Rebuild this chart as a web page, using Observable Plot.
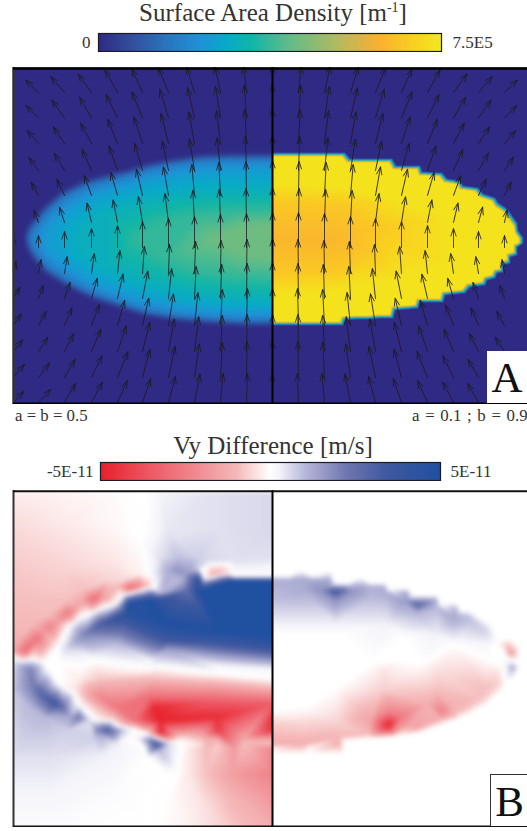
<!DOCTYPE html>
<html><head><meta charset="utf-8">
<script src="https://cdn.jsdelivr.net/npm/d3@7"></script>
<script src="https://cdn.jsdelivr.net/npm/@observablehq/plot@0.6"></script>
<style>
html,body{margin:0;padding:0;background:#fff;}
#page{position:relative;width:527px;height:831px;overflow:hidden;font-family:"Liberation Serif",serif;color:#333;}
#page>*{position:absolute;}
.title{font-size:25px;left:0;width:546px;text-align:center;line-height:26px;white-space:nowrap;}
.title sup{font-size:14px;line-height:0;}
.note{font-size:16.8px;white-space:nowrap;line-height:18px;}
.letter{background:#fff;color:#111;font-size:43px;line-height:54px;text-align:center;}
svg{display:block;overflow:hidden;}
</style></head><body><div id="page"></div>
<script>
// ---- colour bars
const densityStops=[0,0.75e5,1.5e5,2.25e5,2.78e5,3.35e5,4.16e5,5.18e5,6.15e5,6.88e5,7.5e5];
const densityColors=["#2f2a84","#33509f","#2876c0","#1e93d8","#08aac8","#10b5a8","#60bc88","#aeba62","#fbb030","#f9d020","#f2ea1c"];
const diffStops=[-5,-3.5,-2.2,-1,-0.25,0,0.25,1,2.2,3.4,5];
const diffColors=["#e8202a","#ee5a66","#f08a90","#f5b8b8","#fdeeee","#ffffff","#f4f4fa","#b8b8da","#7078b0","#4058a0","#2050a0"];
const densityLabels=["0","7.5E5"];
const diffLabels=["-5E-11","5E-11"];

// ---- Panel A, left half: contours of surface area density (x, y positions, and the value on each)
const aLeftLevels=[0,1.5e5,2.4e5,3.0e5,3.7e5,4.35e5];
const aLeftContours=[
 [[272,86],[235,86],[200,87],[167,92],[147,96],[127,102],[110,106],[83,113],[60,124],[43,139],[31,154],[26,162],[24,171],[26,181],[31,190],[43,205],[67,220],[90,231],[117,240],[143,248],[173,253],[207,256],[240,258],[272,258]],
 [[272,91],[235,91],[200,92],[167,97],[147,101],[127,107],[110,111],[85,118],[63,129],[47,143],[35,157],[30,164],[28,171],[30,179],[35,187],[47,201],[70,216],[93,227],[119,236],[145,244],[174,249],[207,252],[240,254],[272,254]],
 [[272,100],[235,101],[200,103],[170,107],[150,111],[130,117],[112,121],[90,128],[72,138],[58,149],[48,160],[42,172],[48,184],[58,193],[78,207],[98,218],[122,227],[148,234],[176,240],[207,243],[240,245],[272,245]],
 [[272,122],[235,123],[200,125],[170,128],[135,134],[105,145],[85,158],[78,172],[85,186],[105,200],[135,212],[170,222],[200,228],[235,232],[272,233]],
 [[272,143],[235,144],[195,148],[160,155],[138,172],[160,190],[195,203],[235,209],[272,211]],
 [[272,157],[240,160],[212,172],[240,186],[272,190],[250,172]]
];
const aLeftCorners=[[13,0],[140,0],[272,0],[13,90],[13,172],[13,260],[13,337],[140,337],[272,337]];

// ---- Panel A, right half: staircase edge
const aRightOuter=[[272,85],[296,85],[320,85],[345,85],[350,91],[371,91],[392,91],[396,98],[408,98],[420,98],[422,104],[442,105],[447,111],[460,113],[463,118],[478,120],[483,126],[495,130],[498,135],[507,141],[512,148],[517,155],[518,163],[523,170],[523,176],[517,180],[517,188],[510,190],[510,196],[503,198],[503,205],[497,206],[495,211],[487,213],[485,218],[470,220],[465,226],[455,227],[445,228],[443,235],[432,235],[420,235],[418,241],[407,242],[395,243],[393,251],[381,251],[369,252],[357,252],[345,253],[343,258],[320,258],[296,258],[272,258]];
const aRightInner=[[272,89],[296,89],[320,89],[341,89],[346,95],[367,95],[388,95],[392,102],[404,102],[416,102],[418,108],[438,109],[443,115],[456,117],[459,122],[474,124],[479,130],[491,134],[494,139],[503,145],[508,152],[513,159],[514,165],[518,171],[518,175],[513,177],[513,184],[506,186],[506,192],[499,194],[499,201],[493,202],[491,207],[483,209],[481,214],[466,216],[461,222],[451,223],[441,224],[439,231],[428,231],[416,231],[414,237],[403,238],[391,239],[389,247],[377,247],[365,248],[353,248],[341,249],[339,254],[320,254],[296,254],[272,254]];
const aRightYellow=[[272,118],[340,120],[400,135],[445,150],[470,172],[445,195],[400,210],[340,222],[272,226]];
const aRightOrange=[[272,135],[340,137],[378,160],[372,185],[340,203],[272,207]];
const aRightCore=[[272,172],[330,172]];
const aRightCorners=[[272,0],[400,0],[527,0],[527,90],[527,172],[527,260],[527,337],[400,337],[272,337]];
const aRightValues={outer:0,inner:7.3e5,yellow:7.3e5,orange:6.7e5,core:6.3e5};

// ---- arrows
const arrowRows=[25,50.5,76,103,128,155,180,206,231,258,284,310,335];
const arrowColsLeft=[13,38,64,91,117,142,168,194,220,246];
const arrowColCentre=[272];
const arrowColsRight=[298,324,350,375,401,427,453,478,504];
const angleLeft=[
[-50,-46,-41,-36,-29,-24,-22,-17,-12,-6],
[-50,-45,-35,-30,-26,-22,-17,-13,-9,-4],
[-46,-41,-34,-28,-22,-18,-14,-10,-7,-3],
[-42,-37,-30,-24,-19,-16,-12,-9,-6,-2],
[-34,-29,-25,-20,-16,-13,-10,-5,-3,-1],
[-25,-20,-18,-13,-11,-9,-7,-3,-2,-1],
[0,0,0,0,0,0,0,0,0,0],
[12,10,9,8,6,4,2,2,1,1],
[29,20,19,16,13,11,6,3,2,1],
[34,29,23,21,16,13,9,6,3,1.5],
[38,33,27,23,19,14,10,7,3,1],
[40,37,30,26,22,15,12,8,3,1],
[43,43,30,28,24,19,15,11,5,2]];
const lengthLeft=[
[18,18,21,23,26,26,27,27,27,27],
[17,17.5,22,24,26,28,30,31,32,33],
[16,17,20,23,26,28,31,32,33,34],
[15,16,20,23,26,28,30,32,33,34],
[14,15,18,21,24,27,29,31,33,34],
[12,13,16,20,23,26,29,32,33,34],
[11,12,16,19,22,26,29,31,33,34],
[12,14,17,20,23,27,29,32,33,34],
[13,14,17,21,25,28,30,32,34,35],
[14,16,19,22,26,28,32,33,36,37],
[15,17,20,24,27,30,33,35,36,37],
[17,18,21,24,28,29,32,34,35,36],
[15,18,22,23,24,25,27,29,29,29]];
const lengthCentre=[27,34,35,35,35,35,35,35,36,37,37,37,29];
const angleRight=[
[6,12,17,22,24,29,36,41,46],
[4,9,13,17,22,26,30,35,45],
[3,7,10,14,18,22,28,34,41],
[2,6,9,12,16,19,24,30,34],
[1,3,5,10,13,16,20,25,26],
[1,2,3,7,9,11,13,15,12],
[0,0,0,0,0,0,0,0,0],
[-1,-1,-2,-2,-4,-6,-8,-9,-10],
[-1,-2,-3,-6,-11,-13,-16,-19,-20],
[-1.5,-3,-6,-9,-13,-16,-21,-23,-29],
[-1,-3,-7,-10,-14,-19,-23,-27,-33],
[-1,-3,-8,-12,-15,-22,-26,-30,-37],
[-2,-5,-11,-15,-19,-24,-28,-30,-43]];
const lengthRight=[
[27,27,27,27,26,26,23,21,18],
[33,32,31,30,28,26,24,22,17.5],
[34,33,32,31,28,26,23,20,17],
[34,33,32,30,28,26,23,20,16],
[34,33,31,29,27,24,21,18,15],
[34,33,32,29,26,23,20,16,13],
[35,34,31,29,26,22,19,16,12],
[34,33,32,29,27,23,20,17,14],
[35,34,32,30,28,25,21,17,14],
[37,36,33,32,28,26,22,19,16],
[37,36,35,33,30,27,24,20,17],
[36,35,34,32,29,28,24,21,18],
[29,29,29,27,25,24,23,22,18]];

// ---- Panel B samples, in thirds of a pixel: [x, y, value]; left half
const bUpperRight=[[815,5,.6],[650,5,.5],[480,5,.25],[440,5,0],[815,120,.6],[650,120,.5],[500,120,.4],[445,120,.05],[815,200,.5],[700,210,.5],[620,210,.6],[530,200,.9],[480,200,.5],[590,200,.7],[530,240,1.7],[560,250,1.6],[500,240,1.2],[460,250,.3],[540,270,1],[590,235,.8],[600,240,0],[815,245,.1],[815,258,0],[700,258,0],[610,262,0],[640,250,-1.4],[680,250,-.6],[615,243,0]];
const bUpperLeft=[[39,5,-.25],[200,5,-.15],[350,5,-.05],[420,5,0],[39,100,-.5],[200,100,-.3],[350,100,-.08],[420,150,0],[39,250,-.8],[200,230,-.6],[330,220,-.4],[420,250,-.2],[39,400,-1],[110,330,-.9],[60,440,-1.1],[100,400,-1],[150,370,-.9],[190,335,-.9],[250,300,-.9],[330,270,-.6],[380,265,-.5],[39,480,-1.5],[75,480,-3],[110,445,-2.8],[130,425,-1.8],[150,410,-2.4],[170,395,-1.7],[205,368,-2.6],[245,335,-1.5],[280,327,-3],[310,325,-1.5],[380,292,-2.6],[395,290,-3.2],[410,290,-2.6],[240,345,-1.3],[350,290,-1],[440,285,-1]];
const bEdgeTop=[[460,293,0],[420,300,0],[370,312,0],[345,340,0],[270,368,0],[205,405,0],[170,470,0],[135,520,0],[39,500,0],[90,505,0],[130,515,0]];
const bBlue=[[600,275,4.5],[815,272,5],[700,272,5],[560,300,2.5],[480,308,1],[385,330,3.5],[480,325,4],[365,345,2],[290,380,1.5],[230,410,1],[200,470,.7],[380,350,5],[450,330,5],[600,300,5],[815,300,5],[815,440,5],[650,420,5],[500,400,5],[380,370,4.5],[300,400,3.2],[250,430,2],[210,480,.5],[500,450,3.5],[650,460,3.5],[815,470,4],[815,510,1.5],[650,490,1.7],[500,475,1.5],[350,460,1],[250,490,.3],[815,535,.2],[650,525,.2],[450,510,.2],[280,505,.1]];
const bEdgeMiddle=[[815,565,0],[650,550,0],[450,535,0],[250,525,0],[180,520,0],[140,530,0]];
const bRed=[[815,590,-1],[650,575,-1],[450,565,-1],[300,565,-.8],[240,565,-.3],[815,640,-3.4],[650,630,-3.3],[450,620,-3],[300,620,-2.3],[230,600,-.5],[815,690,-4.6],[650,680,-4.7],[480,690,-5],[460,650,-4.8],[350,650,-2.8],[290,650,-1],[815,720,-4.5],[650,720,-4.3],[480,725,-4.8],[400,690,-2.8],[340,680,-1],[815,745,-1.5],[730,745,-1.4],[650,745,-1.3],[600,745,-.9],[540,745,-.3]];
const bEdgeBottom=[[815,762,-.9],[730,762,-.9],[650,762,-.7],[600,762,-.4],[560,760,-.1],[545,760,0],[440,730,0],[400,715,0],[350,705,0],[290,690,0],[235,640,0],[175,580,0],[150,540,0]];
const bLowerRight=[[815,772,-2.3],[700,772,-1.8],[620,772,-1],[565,775,-.3],[815,850,-2.4],[700,850,-1.7],[620,850,-.9],[560,850,-.3],[530,850,0],[815,930,-1.8],[700,930,-1.1],[600,930,-.4],[510,930,-.05],[815,1011,-1.3],[680,1011,-.7],[580,1011,-.25],[480,1011,-.02],[440,1011,0],[500,850,0]];
const bLowerLeft=[[39,525,.6],[90,535,2],[60,525,1.2],[100,585,2.2],[120,605,2.8],[140,625,3.2],[165,640,3.5],[190,650,2.5],[140,640,2.5],[100,620,1.8],[200,650,1.5],[235,680,2.3],[210,680,1.3],[270,690,.5],[290,718,2],[320,718,3],[350,720,1.8],[300,735,1.2],[370,718,.8],[470,760,3.5],[440,750,1.5],[510,760,.5],[480,780,1],[39,600,.8],[80,640,1],[130,680,1],[200,720,.7],[280,745,.7],[350,760,.3],[400,740,-.2],[430,770,0],[39,800,.5],[150,800,.5],[300,800,.3],[440,800,0],[39,1011,.08],[200,1011,.05],[380,1011,0],[350,900,.08],[150,900,.25],[39,900,.25]];

// ---- Panel B samples, right half (x counted from the centre line at 810)
const brCorners=[[0,0,0],[771,0,0],[0,1011,0],[771,1011,0],[400,0,0],[400,1011,0],[771,500,0],[0,240,0],[90,240,0],[180,240,0],[270,260,0],[350,260,0],[520,290,0],[660,370,0],[720,420,0],[720,650,0],[600,720,0],[450,760,0],[220,790,0],[110,790,0],[0,790,0]];
const brTopEdge=[[0,256,0],[60,256,0],[120,256,0],[185,256,0],[196,277,0],[240,277,0],[295,277,0],[345,277,0],[356,294,0],[415,294,0],[426,314,0],[500,314,0],[511,339,0],[560,339,0],[571,359,0],[606,364,0],[626,379,0],[666,404,0],[681,440,0],[676,465,0]];
const brTopInner=[[0,268,1.2],[60,268,1.2],[120,268,1.3],[176,268,1.3],[182,289,1.5],[240,289,1.3],[295,289,1.2],[340,289,1.2],[345,306,1.2],[408,306,1.3],[414,326,1.2],[495,326,1.2],[500,351,1],[555,351,1],[560,371,1],[595,376,.9],[612,391,.8],[650,416,.6],[662,440,.4]];
const brTopBody=[[0,330,.9],[100,300,1.2],[195,302,3.4],[150,300,1.7],[240,305,1.7],[195,330,1.7],[300,320,1],[440,342,2.8],[400,330,1.5],[480,345,1.5],[440,370,1],[550,380,1.3],[600,400,.8],[640,430,.6],[0,400,.3],[195,400,.3],[350,400,.3],[500,430,.3],[650,462,.2],[0,430,0],[200,430,0],[400,440,0],[550,465,0],[660,475,0]];
const brMiddle=[[0,500,0],[200,510,0],[400,510,0],[660,510,0],[0,660,0],[100,650,0],[200,590,0],[300,520,0],[450,520,0],[685,525,0]];
const brLowerBody=[[340,540,-.4],[500,545,-.5],[680,550,-.5],[690,572,-.6],[340,600,-.7],[500,600,-.9],[640,590,-.9],[0,700,-.7],[0,755,-1.2],[100,700,-.6],[200,690,-.6],[200,740,-1.1],[300,690,-1.5],[355,705,-5],[320,680,-2.2],[390,680,-2.7],[355,660,-2.2],[355,722,-3.2],[420,700,-1.5],[510,665,-2.5],[470,640,-1.2],[540,640,-1.2],[560,660,-1],[620,620,-.9]];
const brLowerInner=[[680,585,-.7],[650,612,-.8],[625,632,-.8],[590,652,-.9],[550,672,-1.2],[510,686,-1.2],[440,712,-1.5],[370,726,-2],[295,730,-1],[210,738,-1],[205,762,-1.2],[100,762,-1.2],[0,762,-1.2]];
const brLowerEdge=[[702,575,0],[702,598,0],[670,622,0],[645,647,0],[605,667,0],[565,687,0],[525,699,0],[450,727,0],[372,739,0],[295,744,0],[222,752,0],[220,774,0],[110,774,0],[0,774,0]];
const brSpots=[[720,485,-1.8],[705,460,-.6],[735,495,-.8],[715,475,-1.2],[700,490,0],[745,470,0],[690,450,0],[720,445,0],[745,505,0],[725,530,1.3],[725,550,.7],[715,520,.3],[700,530,0],[750,530,0],[725,565,0],[725,510,0]];

// ---- build tables for the library
const aLeftData=[...aLeftContours.flatMap((c,i)=>c.map(([x,y])=>({x,y,v:aLeftLevels[i]}))),...aLeftCorners.map(([x,y])=>({x,y,v:0}))];
const tag=(a,v)=>a.map(([x,y])=>({x,y,v}));
const aRightData=[...tag(aRightCorners,0),...tag(aRightOuter,aRightValues.outer),...tag(aRightInner,aRightValues.inner),...tag(aRightYellow,aRightValues.yellow),...tag(aRightOrange,aRightValues.orange),...tag(aRightCore,aRightValues.core)];
const arrows=[];
arrowRows.forEach((y,r)=>{
  arrowColsLeft.forEach((x,c)=>arrows.push({x,y,a:angleLeft[r][c],l:lengthLeft[r][c]}));
  arrowColCentre.forEach(x=>arrows.push({x,y,a:0,l:lengthCentre[r]}));
  arrowColsRight.forEach((x,c)=>arrows.push({x,y,a:angleRight[r][c],l:lengthRight[r][c]}));
});
const bLeftData=[...bUpperRight,...bUpperLeft,...bEdgeTop,...bBlue,...bEdgeMiddle,...bRed,...bEdgeBottom,...bLowerRight,...bLowerLeft];
const bRightData=[...brCorners,...brTopEdge,...brTopInner,...brTopBody,...brMiddle,...brLowerBody,...brLowerInner,...brLowerEdge,...brSpots];

const page=document.getElementById("page");
function place(node,left,top){node.style.left=left+"px";node.style.top=top+"px";page.appendChild(node);return node;}
function html(cls,inner,left,top,extra){const d=document.createElement("div");d.className=cls;d.innerHTML=inner;if(left!=null)d.style.left=left+"px";d.style.top=top+"px";Object.assign(d.style,extra||{});page.appendChild(d);}

const arrowShape={draw(ctx,l){ctx.moveTo(0,0);ctx.lineTo(0,-l);ctx.moveTo(-2.6,-l+7.5);ctx.lineTo(0,-l);ctx.lineTo(2.6,-l+7.5);}};

function colorBar(stops,colors,labels,x0,x1,top,gapL,gapR){
  const dom=[stops[0],stops[stops.length-1]];
  const p=Plot.plot({width:527,height:20,marginLeft:x0,marginRight:527-x1,marginTop:1,marginBottom:1,
    style:{fontFamily:"Liberation Serif",background:"transparent",color:"#333"},
    x:{domain:dom,axis:null},y:{domain:[0,1],axis:null},
    color:{type:"linear",domain:stops,range:colors,clamp:true},
    marks:[
      Plot.raster({fill:(x,y)=>x,x1:dom[0],x2:dom[1],y1:0,y2:1}),
      Plot.frame({stroke:"#1a1a2a",strokeWidth:1.2}),
      Plot.text([labels[0]],{x:dom[0],y:0.5,text:d=>d,dx:-gapL,textAnchor:"end",fontSize:17,fill:"#333"}),
      Plot.text([labels[1]],{x:dom[1],y:0.5,text:d=>d,dx:gapR,textAnchor:"start",fontSize:17,fill:"#333"})
    ]});
  place(p,0,top);
}

// ---- text and bars
html("title",'Surface Area Density [m<sup>-1</sup>]',null,0);
colorBar(densityStops,densityColors,densityLabels,98,441,32,8,11);
html("title",'Vy Difference [m/s]',null,433);
colorBar(diffStops,diffColors,diffLabels,100,440,461,7,10);
html("note","a = b = 0.5",15,407);
html("note","a = 0.1 ; b = 0.9",412,407,{wordSpacing:"1.5px"});

// ---- Panel A
const panelA=Plot.plot({width:527,height:337,marginLeft:13,marginRight:0,marginTop:0,marginBottom:0,
  style:{background:"transparent"},
  x:{domain:[13,527],axis:null},y:{domain:[0,337],reverse:true,axis:null},
  color:{type:"linear",domain:densityStops,range:densityColors,clamp:true},
  length:{type:"identity"},
  marks:[
    Plot.raster(aLeftData,{x:"x",y:"y",fill:"v",x1:13,x2:272,y1:0,y2:337,interpolate:"barycentric",blur:2}),
    Plot.raster(aRightData,{x:"x",y:"y",fill:"v",x1:272,x2:527,y1:0,y2:337,interpolate:"barycentric"}),
    Plot.vector(arrows,{x:"x",y:"y",rotate:"a",length:"l",anchor:"start",shape:arrowShape,stroke:"#1c1c24",strokeWidth:0.8,clip:true}),
    Plot.ruleX([13],{stroke:"#333",strokeWidth:2.5}),
    Plot.ruleX([272],{stroke:"#000",strokeWidth:2}),
    Plot.ruleY([1],{stroke:"#000",strokeWidth:2.5}),
    Plot.ruleY([336],{stroke:"#000",strokeWidth:2})
  ]});
place(panelA,0,67);
html("letter","A",487,351,{width:"40px",height:"52px"});

// ---- Panel B
const panelB=Plot.plot({width:527,height:337,marginLeft:13,marginRight:0,marginTop:0,marginBottom:0,
  style:{background:"transparent"},
  x:{domain:[39,1581],axis:null},y:{domain:[0,1011],reverse:true,axis:null},
  color:{type:"linear",domain:diffStops,range:diffColors,clamp:true},
  marks:[
    Plot.raster(bLeftData,{x:d=>d[0],y:d=>d[1],fill:d=>d[2],x1:39,x2:816,y1:0,y2:1011,interpolate:"barycentric",blur:1.5}),
    Plot.raster(bRightData,{x:d=>810+d[0],y:d=>d[1],fill:d=>d[2],x1:816,x2:1581,y1:0,y2:1011,interpolate:"barycentric",blur:1.5}),
    Plot.ruleX([39],{stroke:"#333",strokeWidth:2}),
    Plot.ruleX([816],{stroke:"#000",strokeWidth:2}),
    Plot.ruleY([2],{stroke:"#111",strokeWidth:2}),
    Plot.ruleY([1008],{stroke:"#111",strokeWidth:2})
  ]});
place(panelB,0,490);
html("letter","B",490,774,{width:"37px",height:"51px",borderTop:"1px solid #333",borderLeft:"1px solid #333"});
</script></body></html>
